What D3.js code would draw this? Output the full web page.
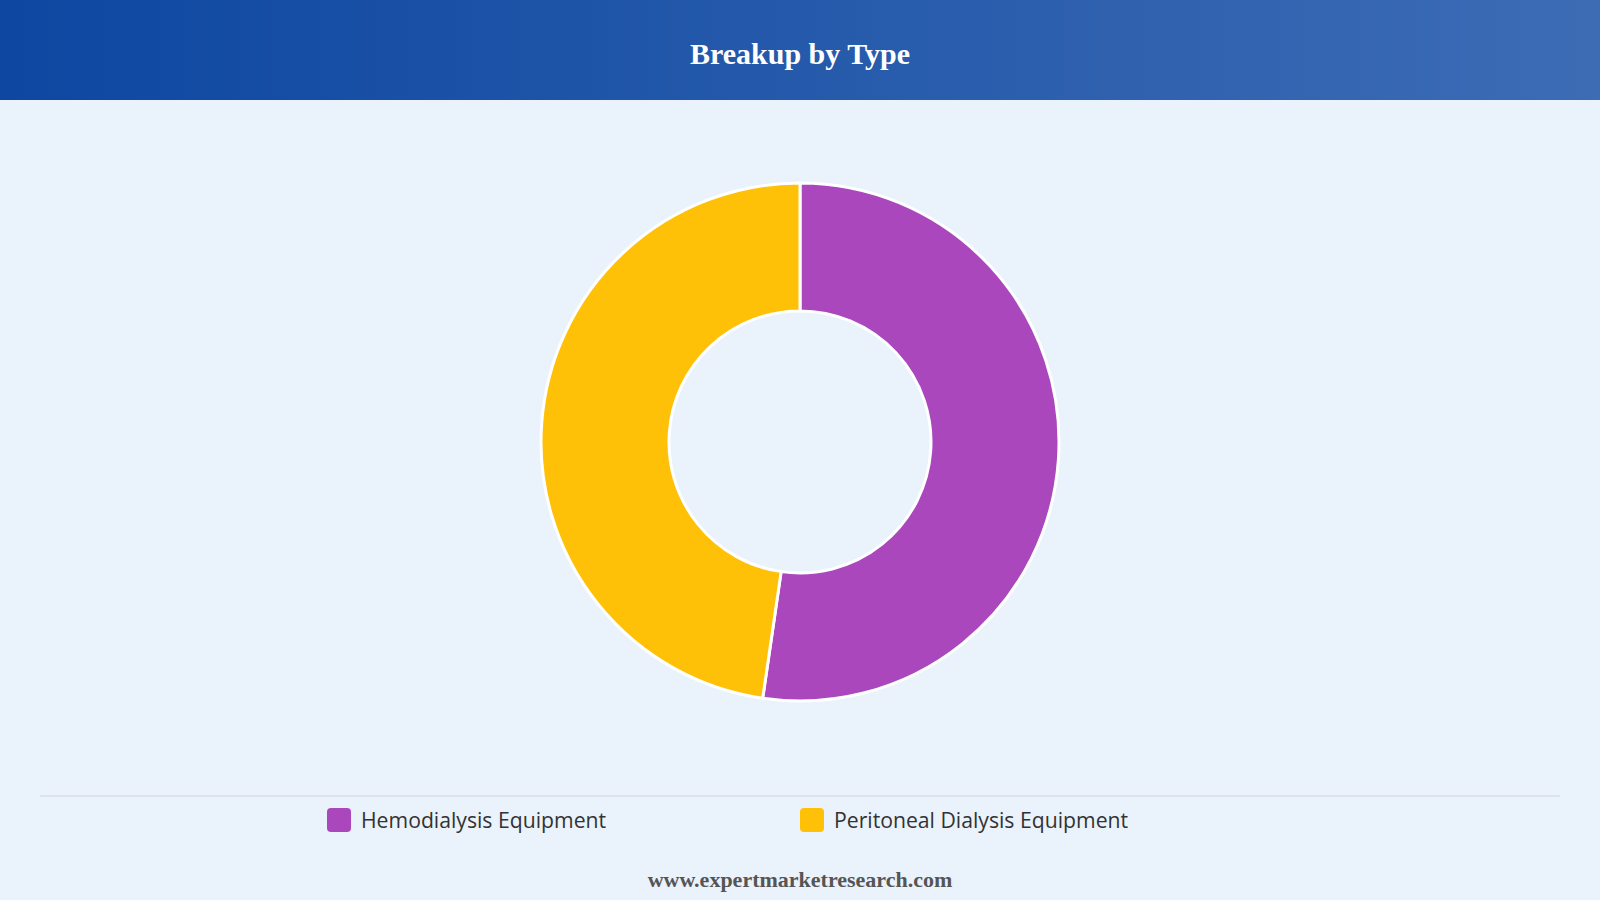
<!DOCTYPE html>
<html><head><meta charset="utf-8">
<script src="https://cdn.jsdelivr.net/npm/d3@7"></script>
<style>body{margin:0;background:#eaf2fb;}svg{display:block}</style>
</head><body>
<svg id="c" width="1600" height="900"></svg>
<script>
const categories = ["Hemodialysis Equipment", "Peritoneal Dialysis Equipment"];
const values = [52.3, 47.7];
const colors = ["#aa47bc", "#ffc107"];

const svg = d3.select("#c");
const defs = svg.append("defs");
const g = defs.append("linearGradient").attr("id","hg");
g.append("stop").attr("offset","0%").attr("stop-color","#0d47a1");
g.append("stop").attr("offset","100%").attr("stop-color","#3d6cb5");
svg.append("rect").attr("width",1600).attr("height",900).attr("fill","#eaf2fb");
svg.append("rect").attr("width",1600).attr("height",100).attr("fill","url(#hg)");
svg.append("text").attr("x",800).attr("y",64).attr("text-anchor","middle")
  .attr("font-family","Liberation Serif, serif").attr("font-weight","bold")
  .attr("font-size",30).attr("fill","#fff").text("Breakup by Type");

const pie = d3.pie().sort(null).value(d=>d)(values);
const arc = d3.arc().innerRadius(131).outerRadius(259);
svg.append("g").attr("transform","translate(800,442)")
  .selectAll("path").data(pie).join("path")
  .attr("d",arc).attr("fill",(d,i)=>colors[i])
  .attr("stroke","#fff").attr("stroke-width",3);

svg.append("line").attr("x1",40).attr("x2",1560).attr("y1",796).attr("y2",796)
  .attr("stroke","#d0d4d8").attr("stroke-width",1);
const lx = d3.scaleOrdinal().domain(categories).range([327,800]);
const leg = svg.selectAll("g.leg").data(categories).join("g")
  .attr("transform",d=>`translate(${lx(d)},808)`);
leg.append("rect").attr("width",24).attr("height",24).attr("rx",4)
  .attr("fill",(d,i)=>colors[i]);
leg.append("text").attr("x",34).attr("y",20).attr("font-family","Open Sans, sans-serif")
  .attr("font-size",21.2).attr("fill","#333").text(d=>d);

svg.append("text").attr("x",800).attr("y",887).attr("text-anchor","middle")
  .attr("font-family","Liberation Serif, serif").attr("font-weight","bold")
  .attr("font-size",22).attr("fill","#555").text("www.expertmarketresearch.com");
</script>
</body></html>
